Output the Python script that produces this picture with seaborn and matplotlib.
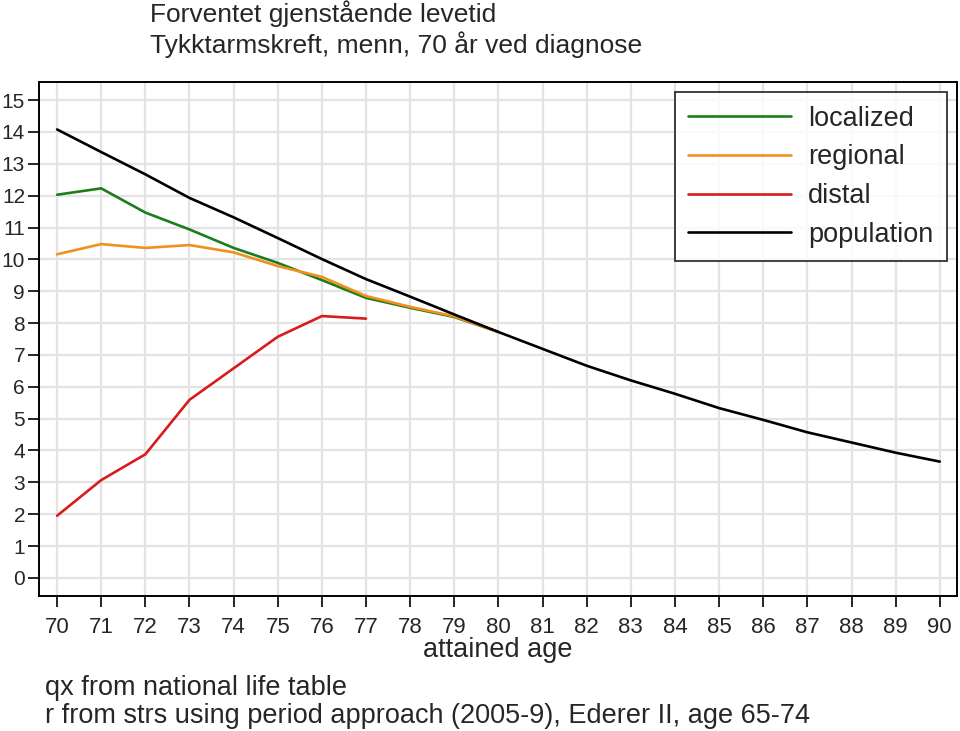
import matplotlib
matplotlib.use("Agg")
import matplotlib.pyplot as plt
import seaborn as sns
import pandas as pd

# ---- data ----
ages_pop = list(range(70, 91))
population = [14.08, 13.37, 12.67, 11.93, 11.32, 10.67, 10.01, 9.38, 8.83, 8.27,
              7.72, 7.19, 6.66, 6.20, 5.78, 5.33, 4.96, 4.57, 4.25, 3.93, 3.65]
ages_loc = list(range(70, 81))
localized = [12.03, 12.23, 11.47, 10.94, 10.36, 9.89, 9.35, 8.79, 8.48, 8.19, 7.72]
regional = [10.16, 10.48, 10.36, 10.45, 10.22, 9.79, 9.45, 8.85, 8.51, 8.21, 7.72]
ages_dist = list(range(70, 78))
distal = [1.95, 3.07, 3.88, 5.59, 6.58, 7.57, 8.22, 8.14]

series_names = ["localized", "regional", "distal", "population"]
colors = ["#1b7d1b", "#f0901e", "#d81c1c", "#000000"]
xticks = list(range(70, 91))
yticks = list(range(0, 16))

title1 = "Forventet gjenstående levetid"
title2 = "Tykktarmskreft, menn, 70 år ved diagnose"
xlabel = "attained age"
note1 = "qx from national life table"
note2 = "r from strs using period approach (2005-9), Ederer II, age 65-74"

rows = []
for name, xs, ys in [("localized", ages_loc, localized), ("regional", ages_loc, regional),
                     ("distal", ages_dist, distal), ("population", ages_pop, population)]:
    for a, v in zip(xs, ys):
        rows.append({"age": a, "value": v, "series": name})
df = pd.DataFrame(rows)

sns.set_theme(style="white")
plt.rcParams["font.family"] = ["Liberation Sans", "DejaVu Sans"]

fig = plt.figure(figsize=(9.6, 7.31), dpi=100)
ax = fig.add_axes([39/960, 1 - 596/731, (957 - 39)/960, (596 - 82)/731])

sns.lineplot(data=df, x="age", y="value", hue="series", hue_order=series_names,
             palette=dict(zip(series_names, colors)), linewidth=1.9, ax=ax,
             estimator=None, sort=True)

ax.set_xlim(69.59, 90.39)
ax.set_ylim(-0.57, 15.57)
ax.set_xticks(xticks)
ax.set_yticks(yticks)
ax.set_xticklabels([str(t) for t in xticks], fontsize=16)
ax.set_yticklabels([str(t) for t in yticks], fontsize=15)
ax.grid(True, color="#e3e3e3", linewidth=1.6)
ax.set_axisbelow(True)
for s in ax.spines.values():
    s.set_color("black")
    s.set_linewidth(1.4)
ax.tick_params(axis="x", direction="out", length=8, width=1.2, color="black", pad=7)
ax.tick_params(axis="y", direction="out", length=8, width=1.2, color="black", pad=2)
ax.tick_params(bottom=True, left=True)
ax.set_xlabel("")
ax.set_ylabel("")

leg = ax.legend(loc="upper right", bbox_to_anchor=(0.989, 0.9805), fontsize=19.5,
                frameon=True, fancybox=False, edgecolor="black", handlelength=3.8,
                labelspacing=0.47, borderpad=0.5, handletextpad=0.62, borderaxespad=0)
leg.get_frame().set_linewidth(1.3)
for line in leg.get_lines():
    line.set_linewidth(1.9)

fig.text(150/960, 1 - 14/731, title1, fontsize=19, ha="left", va="center")
fig.text(150/960, 1 - 45/731, title2, fontsize=19, ha="left", va="center")
fig.text(498/960, 1 - 650/731, xlabel, fontsize=19.5, ha="center", va="center")
fig.text(45/960, 1 - 688/731, note1, fontsize=19.5, ha="left", va="center")
fig.text(45/960, 1 - 716/731, note2, fontsize=19.5, ha="left", va="center")

fig.savefig("out.png", dpi=100)
